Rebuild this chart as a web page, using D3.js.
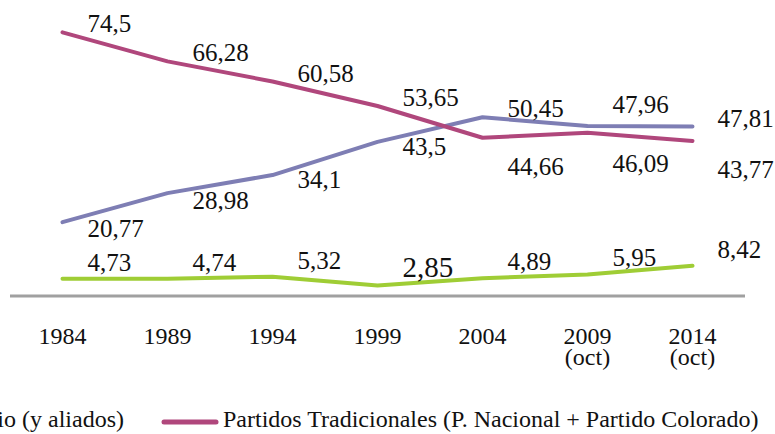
<!DOCTYPE html>
<html>
<head>
<meta charset="utf-8">
<script src="https://cdn.jsdelivr.net/npm/d3@7"></script>
<style>
  html, body { margin: 0; padding: 0; background: #fff; }
  svg { display: block; }
  text { font-family: "Liberation Serif", "DejaVu Serif", serif; fill: #111; }
</style>
</head>
<body>
<svg id="chart" width="775" height="434"></svg>
<script>
// ---- data ----
const years = ["1984", "1989", "1994", "1999", "2004", "2009", "2014"];
const yearSub = ["", "", "", "", "", "(oct)", "(oct)"];
const frenteAmplio = [20.77, 28.98, 34.1, 43.5, 50.45, 47.96, 47.81];
const tradicionales = [74.5, 66.28, 60.58, 53.65, 44.66, 46.09, 43.77];
const otros = [4.73, 4.74, 5.32, 2.85, 4.89, 5.95, 8.42];
const fmt = v => String(v).replace(".", ",");

// ---- label layout (offsets from each point, px) ----
const tradDy = [0, 0, 0, 0, 37, 39, 37];
const faDy = [15, 16, 13, 13, 0, -13, 0];
const otrosDy = [-8, -8, -8, -8, -8, -8, -8];
const otrosSize = [25, 25, 25, 29, 25, 25, 25];

const svg = d3.select("#chart");
const x = d3.scalePoint().domain(years).range([10, 745]).padding(0.5);
const y = d3.scaleLinear().domain([0, 80]).range([295.5, 12.9]);

// axis baseline
svg.append("line")
  .attr("x1", 10).attr("x2", 745)
  .attr("y1", 296).attr("y2", 296)
  .attr("stroke", "#a0a0a0").attr("stroke-width", 3);

const series = [
  { name: "Otros", vals: otros, color: "#9fcd35", dy: otrosDy },
  { name: "Frente Amplio", vals: frenteAmplio, color: "#7e7eb4", dy: faDy },
  { name: "Tradicionales", vals: tradicionales, color: "#b0477c", dy: tradDy }
];

const line = d3.line().x((d, i) => x(years[i])).y(d => y(d));

series.forEach(s => {
  svg.append("path")
    .datum(s.vals)
    .attr("d", line)
    .attr("fill", "none")
    .attr("stroke", s.color)
    .attr("stroke-width", 4)
    .attr("stroke-linejoin", "round")
    .attr("stroke-linecap", "round");
});

series.forEach(s => {
  svg.selectAll(null)
    .data(s.vals)
    .enter().append("text")
    .attr("x", (d, i) => x(years[i]) + 25)
    .attr("y", (d, i) => y(d) + s.dy[i])
    .attr("font-size", (d, i) => s.name === "Otros" ? otrosSize[i] : 25)
    .text(d => fmt(d));
});

// x tick labels
const ticks = svg.selectAll(null).data(years).enter().append("text")
  .attr("x", d => x(d))
  .attr("y", 344)
  .attr("text-anchor", "middle")
  .attr("font-size", 24);
ticks.append("tspan").text(d => d);
svg.selectAll(null).data(years).enter().append("text")
  .attr("x", d => x(d))
  .attr("y", 365)
  .attr("text-anchor", "middle")
  .attr("font-size", 24)
  .text((d, i) => yearSub[i]);

// legend
const legend = svg.append("g");
legend.append("line")
  .attr("x1", -60).attr("x2", -5).attr("y1", 422).attr("y2", 422)
  .attr("stroke", "#7e7eb4").attr("stroke-width", 5).attr("stroke-linecap", "round");
legend.append("text")
  .attr("x", 124).attr("y", 427)
  .attr("text-anchor", "end")
  .attr("font-size", 24)
  .text("Frente Amplio (y aliados)");
legend.append("line")
  .attr("x1", 164).attr("x2", 216).attr("y1", 422).attr("y2", 422)
  .attr("stroke", "#b0477c").attr("stroke-width", 5).attr("stroke-linecap", "round");
legend.append("text")
  .attr("x", 223).attr("y", 427)
  .attr("font-size", 24)
  .text("Partidos Tradicionales (P. Nacional + Partido Colorado)");
</script>
</body>
</html>
